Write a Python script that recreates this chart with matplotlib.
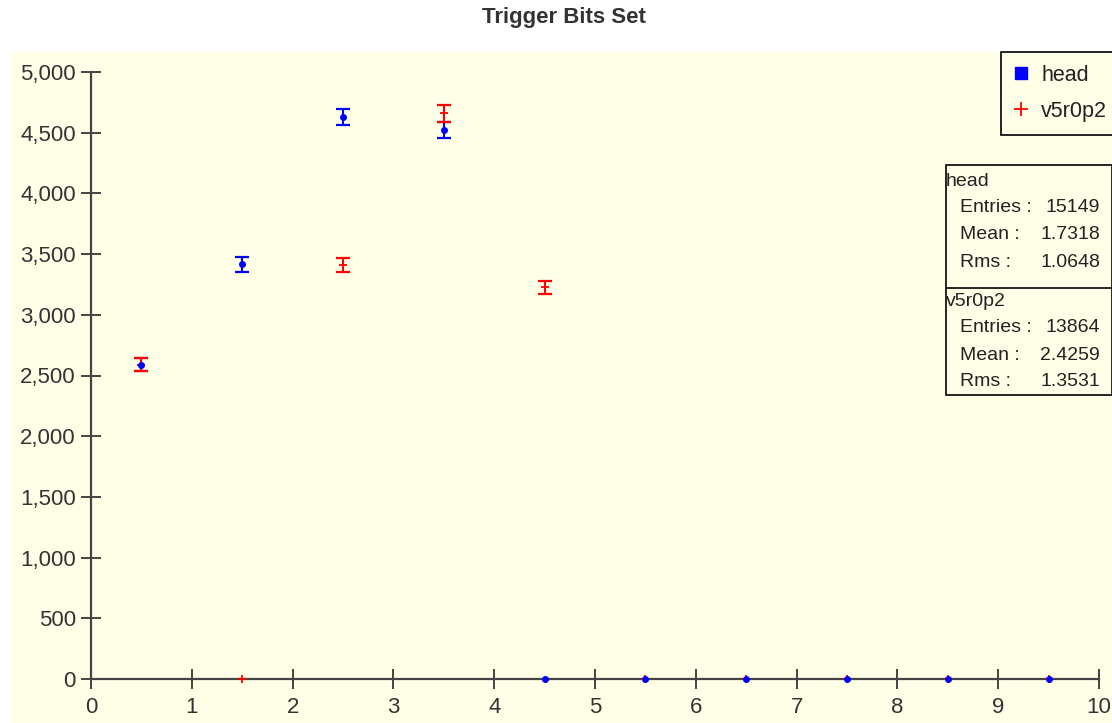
import matplotlib
matplotlib.use("Agg")
import matplotlib.pyplot as plt
import numpy as np
from matplotlib.patches import Rectangle
from matplotlib.lines import Line2D
from matplotlib.ticker import FuncFormatter

# ---- data ----
bin_centers = [0.5, 1.5, 2.5, 3.5, 4.5, 5.5, 6.5, 7.5, 8.5, 9.5]
head_counts = [2590, 3415, 4630, 4520, 0, 0, 0, 0, 0, 0]
v5r0p2_counts = [2590, 0, 3410, 4660, 3225, 0, 0, 0, 0, 0]
series_names = ["head", "v5r0p2"]
stats_entries = ["15149", "13864"]
stats_mean = ["1.7318", "2.4259"]
stats_rms = ["1.0648", "1.3531"]
title = "Trigger Bits Set"
x_ticks = list(range(0, 11))
y_ticks = list(range(0, 5001, 500))

W, H = 1112, 723
BG = "#FFFFE8"
AX = "#444444"
FONT = "Liberation Sans"
FS = 16

fig = plt.figure(figsize=(W / 100, H / 100), dpi=100)
fig.patch.set_facecolor("white")
bgrect = Rectangle((12 / W, 0), 1 - 12 / W, (H - 52) / H,
                   transform=fig.transFigure, facecolor=BG,
                   edgecolor="none", zorder=-10)
fig.add_artist(bgrect)

ax = fig.add_axes([91 / W, 44 / H, (1099 - 91) / W, (679 - 72) / H])
ax.set_zorder(1)
ax.set_facecolor("none")
ax.set_xlim(0, 10)
ax.set_ylim(0, 5000)
for s in ["top", "right"]:
    ax.spines[s].set_visible(False)
for s in ["left", "bottom"]:
    ax.spines[s].set_color(AX)
    ax.spines[s].set_linewidth(1.6)
ax.set_xticks(x_ticks)
ax.set_yticks(y_ticks)
ax.yaxis.set_major_formatter(FuncFormatter(lambda v, p: f"{int(v):,}"))
ax.tick_params(direction="inout", length=14, width=1.4, color=AX,
               labelsize=FS, labelcolor="#333333")
ax.tick_params(axis="x", pad=6)
ax.tick_params(axis="y", pad=4)
for lab in ax.get_xticklabels() + ax.get_yticklabels():
    lab.set_fontfamily(FONT)

x = np.array(bin_centers)
h = np.array(head_counts, dtype=float)
v = np.array(v5r0p2_counts, dtype=float)

mh = h > 0
mv = v > 0
ax.errorbar(x[mh], h[mh], yerr=np.sqrt(h[mh]), fmt="none", ecolor="blue",
            elinewidth=1.5, capsize=4.7, capthick=1.6, zorder=3, clip_on=False)
ax.errorbar(x[mv], v[mv], yerr=np.sqrt(v[mv]), fmt="none", ecolor="red",
            elinewidth=1.5, capsize=4.7, capthick=1.6, zorder=4, clip_on=False)
ax.plot(x, v, linestyle="none", marker="+", color="red", markersize=6,
        markeredgewidth=1.3, zorder=5, clip_on=False)
ax.plot(x, h, linestyle="none", marker="o", color="blue", markersize=4,
        zorder=6, clip_on=False)

fig.text(564 / W, 1 - 18 / H, title, ha="center", va="center",
         fontsize=16, fontweight="bold", color="#333333", family=FONT)

# legend
handles = [Line2D([], [], linestyle="none", marker="s", color="blue", markersize=8),
           Line2D([], [], linestyle="none", marker="+", color="red", markersize=10,
                  markeredgewidth=1.3)]
leg = fig.legend(handles, series_names, loc="upper right",
                 bbox_to_anchor=(1.0 + 8 / W, 1 - 52 / H), frameon=True,
                 fancybox=False, edgecolor="black", facecolor=BG, framealpha=1,
                 prop={"family": FONT, "size": 15.5}, handlelength=0.65,
                 handletextpad=0.6, borderpad=0.6, labelspacing=0.7,
                 borderaxespad=0)
leg.get_frame().set_linewidth(1.2)
leg.set_zorder(10)
for t in leg.get_texts():
    t.set_color("#222222")

# stats box
box_l, box_t, box_b, div = 946, 165, 395, 288
fig.add_artist(Rectangle((box_l / W, 1 - box_b / H), (W - box_l) / W,
                         (box_b - box_t) / H, transform=fig.transFigure,
                         facecolor=BG, edgecolor="black", linewidth=1.2,
                         zorder=5))
fig.add_artist(Line2D([box_l / W, 1], [1 - div / H, 1 - div / H],
                      transform=fig.transFigure, color="black", linewidth=1.2,
                      zorder=6))
SFS = 14
label_x = [960, 960, 960]
tops = [181, 301]
for i, name in enumerate(series_names):
    y0 = tops[i]
    fig.text(946 / W, 1 - y0 / H, name, ha="left", va="center", fontsize=SFS,
             family=FONT, color="#222222", zorder=7)
    rows = [("Entries :", stats_entries[i]), ("Mean :", stats_mean[i]),
            ("Rms :", stats_rms[i])]
    for j, (lab, val) in enumerate(rows):
        yy = 1 - (y0 + 27 * (j + 1)) / H
        fig.text(label_x[j] / W, yy, lab, ha="left", va="center", fontsize=SFS,
                 family=FONT, color="#222222", zorder=7)
        fig.text(1100 / W, yy, val, ha="right", va="center", fontsize=SFS,
                 family=FONT, color="#222222", zorder=7)

fig.savefig("out.png", dpi=100)
